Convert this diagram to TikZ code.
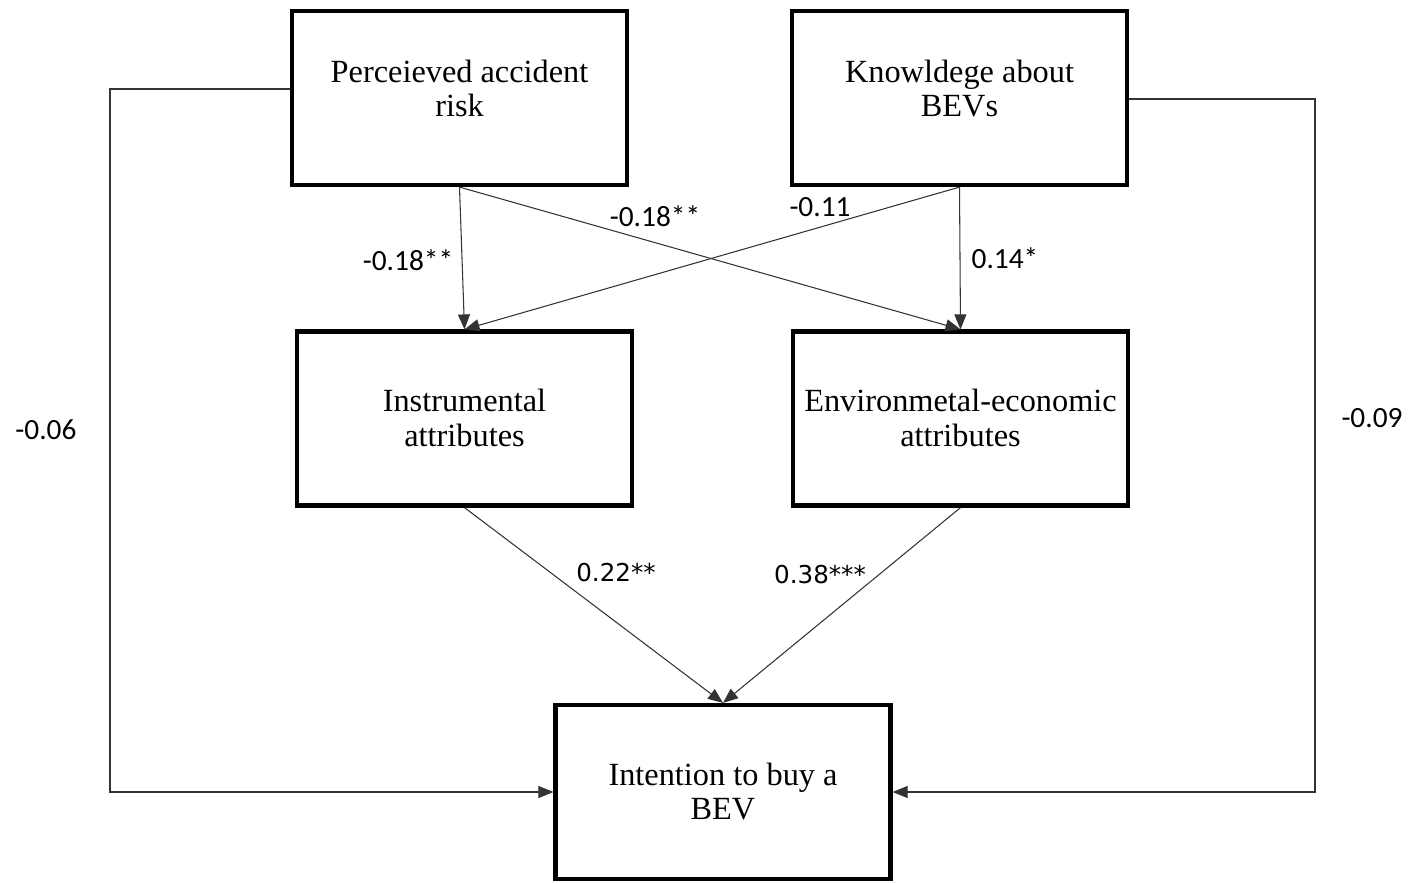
\documentclass[tikz,border=0pt]{standalone}
\usepackage{fontspec}
\setmainfont{Liberation Serif}
\newfontfamily\coeffont{Carlito}
\newfontfamily\coefbfont{DejaVu Sans}
\usepackage{tikz}
\usetikzlibrary{arrows.meta,calc}
\tikzset{
  construct/.style={draw, line width=2.4pt, minimum width=6.7cm, minimum height=3.48cm,
    align=center, font=\fontsize{18.4}{19.5}\selectfont, text depth=0.03cm, inner sep=0pt},
  path/.style={draw=black!80, line width=0.6pt, -{Triangle[length=0.3cm,width=0.24cm]}},
  coef/.style={font=\coeffont\fontsize{16.7}{18}\selectfont},
  coefb/.style={font=\coefbfont\fontsize{14}{16}\selectfont}
}

\begin{document}
\begin{tikzpicture}[x=0.02cm,y=-0.02cm]
\useasboundingbox (0,0) rectangle (1412,882);
\node[construct, text depth=0.39cm] (risk) at (459.5,98) {Perceieved accident\\risk};
\node[construct, text depth=0.39cm] (know) at (959.5,98) {Knowldege about\\BEVs};
\node[construct] (instr) at (464.5,418.5) {Instrumental\\attributes};
\node[construct] (envec) at (960.5,418.5) {Environmetal-economic\\attributes};
\node[construct] (intent) at (723,792) {Intention to buy a\\BEV};

\coordinate (ltop) at (110,89);
\coordinate (rtop) at (1315,99);

\draw[path] (risk.south) -- (instr.north);
\draw[path] (risk.south) -- (envec.north);
\draw[path] (know.south) -- (instr.north);
\draw[path] (know.south) -- (envec.north);
\draw[path] (instr.south) -- (intent.north);
\draw[path] (envec.south) -- (intent.north);
\draw[path] (risk.west |- ltop) -- (ltop) |- (intent.west);
\draw[path] (know.east |- rtop) -- (rtop) |- (intent.east);

\node[coef] (c1) at (408,260) {-0.18**};
\node[coef] (c2) at (655,216) {-0.18**};
\node[coef] (c3) at (820,207) {-0.11};
\node[coef] (c4) at (1005,258) {0.14*};
\node[coefb] (c5) at (616,573) {0.22**};
\node[coefb] (c6) at (820,575) {0.38***};
\node[coef] (c7) at (46,430) {-0.06};
\node[coef] (c8) at (1372,418) {-0.09};
\end{tikzpicture}
\end{document}
